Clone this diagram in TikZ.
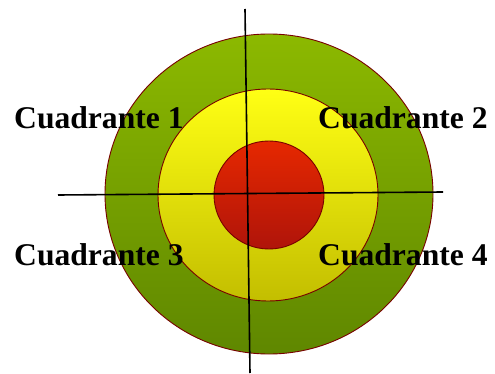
\documentclass[tikz,border=0pt]{standalone}
\usepackage{fontspec}
\setmainfont{Liberation Serif}
\usepackage{tikz}
\usetikzlibrary{calc, positioning}
\definecolor{ringgreen}{RGB}{140,185,0}
\definecolor{ringgreenD}{RGB}{95,135,0}
\definecolor{ringyellow}{RGB}{255,255,20}
\definecolor{ringyellowD}{RGB}{195,190,0}
\definecolor{ringred}{RGB}{230,40,0}
\definecolor{ringredD}{RGB}{175,20,10}
\definecolor{rimred}{RGB}{120,0,0}
\tikzset{
  ring/.style={draw=rimred, line width=0.9pt, shading angle=45},
  axisline/.style={black, line width=1.6pt},
  quadlabel/.style={anchor=base west, inner sep=0pt, font=\fontsize{31.6}{31.6}\selectfont\bfseries}
}

\begin{document}
\begin{tikzpicture}[x=1pt, y=-1pt]
  \useasboundingbox (0,0) rectangle (495,374);
  % target
  \shade[ring, top color=ringgreen, bottom color=ringgreenD]   (269,194) ellipse (164 and 160);
  \shade[ring, top color=ringyellow, bottom color=ringyellowD] (268,195) ellipse (110 and 106);
  \shade[ring, top color=ringred, bottom color=ringredD]       (269,195) ellipse (55 and 54);
  % axes
  \coordinate (top)    at (245,9);
  \coordinate (bottom) at (250,373);
  \coordinate (left)   at (58,195);
  \coordinate (right)  at (443,192);
  \draw[axisline] (top) -- (bottom);
  \draw[axisline] (left) -- (right);
  % labels
  \node[quadlabel] (q1) at (14,129)  {Cuadrante 1};
  \node[quadlabel] (q2) at (318,129) {Cuadrante 2};
  \node[quadlabel] (q3) at (14,265)  {Cuadrante 3};
  \node[quadlabel] (q4) at (318,265) {Cuadrante 4};
\end{tikzpicture}
\end{document}
